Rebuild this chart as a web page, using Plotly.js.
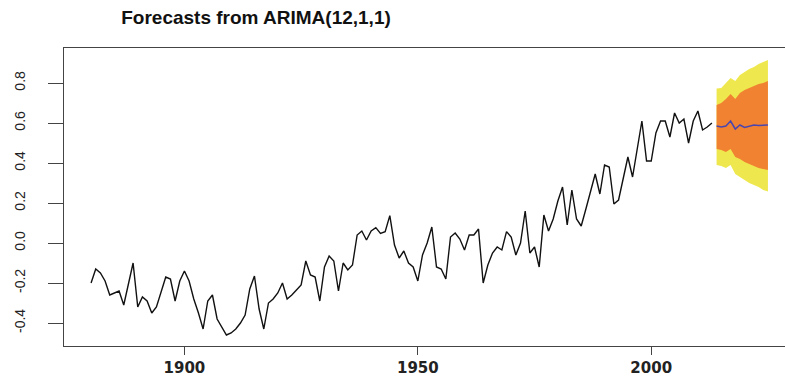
<!DOCTYPE html>
<html>
<head>
<meta charset="utf-8">
<script src="https://cdn.plot.ly/plotly-3.0.1.min.js"></script>
<style>
  html, body { margin: 0; padding: 0; background: #ffffff; overflow: hidden; }
  #chart { width: 797px; height: 379px; }
</style>
</head>
<body>
<div id="chart"></div>
<script>
// Observed series, 1880-2013
const startYear = 1880;
const observed = [
  -0.20, -0.13, -0.15, -0.19, -0.26, -0.25, -0.24, -0.31, -0.21, -0.10,
  -0.32, -0.27, -0.29, -0.35, -0.32, -0.24, -0.17, -0.18, -0.29, -0.19,
  -0.14, -0.19, -0.28, -0.35, -0.43, -0.29, -0.26, -0.38, -0.42, -0.46,
  -0.45, -0.43, -0.40, -0.36, -0.23, -0.165, -0.33, -0.43, -0.30, -0.28,
  -0.25, -0.20, -0.28, -0.26, -0.235, -0.21, -0.09, -0.16, -0.17, -0.29,
  -0.12, -0.065, -0.09, -0.24, -0.10, -0.135, -0.11, 0.04, 0.06, 0.015,
  0.06, 0.077, 0.048, 0.057, 0.137, -0.01, -0.075, -0.04, -0.10, -0.12,
  -0.19, -0.06, 0.00, 0.08, -0.12, -0.13, -0.18, 0.03, 0.05, 0.02,
  -0.035, 0.04, 0.04, 0.07, -0.20, -0.11, -0.05, -0.02, -0.035, 0.057,
  0.03, -0.06, 0.00, 0.16, -0.05, -0.02, -0.12, 0.14, 0.06, 0.12,
  0.21, 0.28, 0.09, 0.265, 0.12, 0.085, 0.17, 0.26, 0.345, 0.245,
  0.39, 0.38, 0.195, 0.215, 0.32, 0.43, 0.33, 0.46, 0.61, 0.41,
  0.41, 0.55, 0.61, 0.61, 0.53, 0.65, 0.60, 0.62, 0.50, 0.61,
  0.66, 0.565, 0.58, 0.60
];
const observedYears = observed.map((_, i) => startYear + i);

// Forecast, 2014-2025
const forecastYears = [2014, 2015, 2016, 2017, 2018, 2019, 2020, 2021, 2022, 2023, 2024, 2025];
const forecastMean = [0.585, 0.58, 0.585, 0.61, 0.57, 0.59, 0.578, 0.585, 0.59, 0.588, 0.59, 0.59];
const upper80 = [0.69, 0.70, 0.72, 0.745, 0.72, 0.75, 0.765, 0.775, 0.785, 0.795, 0.80, 0.81];
const lower80 = [0.47, 0.465, 0.455, 0.47, 0.43, 0.42, 0.405, 0.395, 0.385, 0.375, 0.37, 0.365];
const upper95 = [0.773, 0.775, 0.80, 0.825, 0.81, 0.84, 0.855, 0.87, 0.88, 0.895, 0.905, 0.915];
const lower95 = [0.39, 0.385, 0.375, 0.39, 0.345, 0.33, 0.315, 0.30, 0.29, 0.28, 0.265, 0.257];

// Axis ticks
const xTickVals = [1900, 1950, 2000];
const xTickText = ["1900", "1950", "2000"];
const yTickVals = [-0.4, -0.2, 0.0, 0.2, 0.4, 0.6, 0.8];
const yTickText = ["-0.4", "-0.2", "0.0", "0.2", "0.4", "0.6", "0.8"];

const titleText = "Forecasts from ARIMA(12,1,1)";

function band(upper, lower) {
  return {
    x: forecastYears.concat(forecastYears.slice().reverse()),
    y: upper.concat(lower.slice().reverse())
  };
}
const b95 = band(upper95, lower95);
const b80 = band(upper80, lower80);

const traces = [
  {
    x: b95.x, y: b95.y, type: 'scatter', mode: 'lines',
    fill: 'toself', fillcolor: '#EEE84E', line: { width: 0, color: '#EEE84E' },
    hoverinfo: 'skip', showlegend: false
  },
  {
    x: b80.x, y: b80.y, type: 'scatter', mode: 'lines',
    fill: 'toself', fillcolor: '#F08232', line: { width: 0, color: '#F08232' },
    hoverinfo: 'skip', showlegend: false
  },
  {
    x: observedYears, y: observed, type: 'scatter', mode: 'lines',
    line: { color: '#111111', width: 1.4 }, showlegend: false
  },
  {
    x: forecastYears, y: forecastMean, type: 'scatter', mode: 'lines',
    line: { color: '#4A46B0', width: 1.5 }, showlegend: false
  }
];

const layout = {
  width: 797,
  height: 379,
  margin: { l: 64, r: 2, t: 48, b: 33 },
  paper_bgcolor: '#ffffff',
  plot_bgcolor: '#ffffff',
  showlegend: false,
  title: {
    text: '<b>' + titleText + '</b>',
    font: { family: 'Liberation Sans, Arial, sans-serif', size: 19, color: '#111111' },
    xref: 'container', yref: 'container',
    x: 256 / 797, xanchor: 'center',
    y: 1 - 17 / 379, yanchor: 'middle'
  },
  xaxis: {
    range: [1874.2, 2030.8],
    tickmode: 'array', tickvals: xTickVals, ticktext: xTickText,
    ticks: 'outside', ticklen: 8, tickcolor: '#444', tickwidth: 1,
    showgrid: false, zeroline: false,
    showline: true, mirror: true, linecolor: '#444', linewidth: 1,
    tickfont: { family: 'DejaVu Sans, sans-serif', size: 15, color: '#222', weight: 'bold' },
    ticklabelstandoff: 0
  },
  yaxis: {
    range: [-0.515, 0.975],
    tickmode: 'array', tickvals: yTickVals, ticktext: yTickText,
    ticks: 'outside', ticklen: 15, tickcolor: '#444', tickwidth: 1,
    tickangle: -90,
    showgrid: false, zeroline: false,
    showline: true, mirror: true, linecolor: '#444', linewidth: 1,
    tickfont: { family: 'Liberation Sans, Arial, sans-serif', size: 14, color: '#222' },
    ticklabelstandoff: 17
  }
};

Plotly.newPlot('chart', traces, layout, { displayModeBar: false, staticPlot: true });
</script>
</body>
</html>
